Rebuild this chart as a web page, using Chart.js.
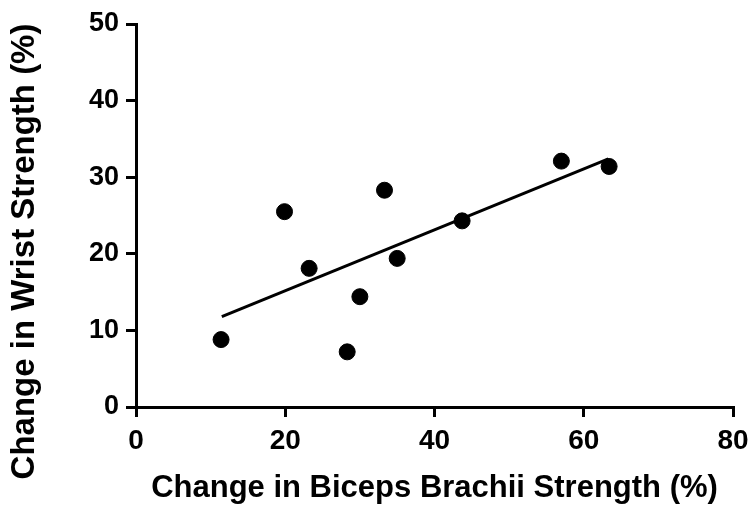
<!DOCTYPE html>
<html>
<head>
<meta charset="utf-8">
<script src="https://cdn.jsdelivr.net/npm/chart.js@4"></script>
<style>
  html, body { margin: 0; padding: 0; background: #fff; overflow: hidden; }
  canvas { display: block; }
</style>
</head>
<body>
<canvas id="scatterChart" width="751" height="517"></canvas>
<script>
// values
const bicepsChange = [11.4, 19.9, 23.2, 28.3, 30.0, 33.3, 35.0, 43.7, 57.0, 63.4];
const wristChange = [8.8, 25.5, 18.1, 7.2, 14.4, 28.3, 19.4, 24.3, 32.1, 31.4];
// fitted line, end points
const fitX = [11.5, 63.3];
const fitY = [11.8, 32.4];

const xTitle = 'Change in Biceps Brachii Strength (%)';
const yTitle = 'Change in Wrist Strength (%)';

const FONT = "'Liberation Sans', Arial, sans-serif";

// y title sits a bit below the middle of the axis in the original
const yTitlePlugin = {
  id: 'yTitle',
  afterDraw(chart) {
    const ctx = chart.ctx;
    const area = chart.chartArea;
    ctx.save();
    ctx.translate(25, (area.top + area.bottom) / 2 + 36);
    ctx.rotate(-Math.PI / 2);
    ctx.font = 'bold 33px ' + FONT;
    ctx.fillStyle = '#000';
    ctx.textAlign = 'center';
    ctx.textBaseline = 'middle';
    ctx.fillText(yTitle, 0, 0);
    ctx.restore();
  }
};

const ctx = document.getElementById('scatterChart').getContext('2d');

new Chart(ctx, {
  type: 'scatter',
  data: {
    datasets: [{
      label: 'Data',
      data: bicepsChange.map((x, i) => ({ x: x, y: wristChange[i] })),
      backgroundColor: '#000',
      borderColor: '#000',
      pointRadius: 8,
      pointHoverRadius: 8
    }, {
      type: 'line',
      label: 'Fit',
      data: fitX.map((x, i) => ({ x: x, y: fitY[i] })),
      borderColor: '#000',
      borderWidth: 3,
      pointRadius: 0,
      fill: false
    }]
  },
  options: {
    responsive: false,
    animation: false,
    devicePixelRatio: 1,
    layout: { padding: { top: 24, right: 18, left: 0, bottom: 0 } },
    plugins: {
      legend: { display: false },
      tooltip: { enabled: false }
    },
    scales: {
      x: {
        type: 'linear',
        min: 0,
        max: 80,
        ticks: { stepSize: 20, color: '#000', padding: 7, font: { family: FONT, size: 28, weight: 'bold' } },
        grid: { drawOnChartArea: false, tickLength: 10, color: '#000', lineWidth: 3 },
        border: { color: '#000', width: 3 },
        title: { display: true, text: xTitle, color: '#000', padding: { top: 0, bottom: 10 }, font: { family: FONT, size: 31, weight: 'bold' } },
        afterFit(scale) {
          scale.height = 110;
          scale.paddingLeft = 0;
          scale.paddingRight = 0;
        }
      },
      y: {
        type: 'linear',
        min: 0,
        max: 50,
        ticks: { stepSize: 10, color: '#000', padding: 7, font: { family: FONT, size: 27, weight: 'bold' } },
        grid: { drawOnChartArea: false, tickLength: 10, color: '#000', lineWidth: 3 },
        border: { color: '#000', width: 3 },
        title: { display: false },
        afterFit(scale) {
          scale.width = 136;
          scale.paddingTop = 0;
          scale.paddingBottom = 0;
        }
      }
    }
  },
  plugins: [yTitlePlugin]
});
</script>
</body>
</html>
